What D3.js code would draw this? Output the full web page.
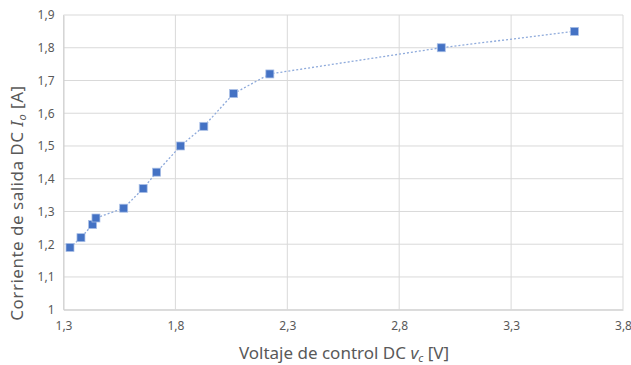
<!DOCTYPE html>
<html>
<head>
<meta charset="utf-8">
<script src="https://cdn.jsdelivr.net/npm/d3@7"></script>
<style>
  body { margin: 0; background: #fff; }
  text { font-family: 'Noto Sans', 'Liberation Sans', sans-serif; fill: #595959; }
</style>
</head>
<body>
<svg id="chart" width="631" height="365"></svg>
<script>
// Voltaje de control DC (V)
const vcValues = [1.329, 1.378, 1.43, 1.445, 1.569, 1.656, 1.716, 1.823, 1.927, 2.06, 2.222, 2.988, 3.583]
// Corriente de salida DC (A)
const ioValues = [1.19, 1.22, 1.26, 1.28, 1.31, 1.37, 1.42, 1.50, 1.56, 1.66, 1.72, 1.80, 1.85]
const xTicks = [1.3, 1.8, 2.3, 2.8, 3.3, 3.8]
const yTicks = [1, 1.1, 1.2, 1.3, 1.4, 1.5, 1.6, 1.7, 1.8, 1.9]

const data = vcValues.map((v, i) => ({ x: v, y: ioValues[i] }))

const margin = { left: 63.5, right: 8, top: 15, bottom: 55.3 }
const svg = d3.select('#chart')
const width = 631 - margin.left - margin.right
const height = 365 - margin.top - margin.bottom

const g = svg.append('g')
  .attr('transform', 'translate(' + margin.left + ',' + margin.top + ')')

const xScale = d3.scaleLinear().domain([1.3, 3.8]).range([0, width])
const yScale = d3.scaleLinear().domain([1, 1.9]).range([height, 0])

const fmt = d => d3.format('.1~f')(d).replace('.', ',')

// gridlines
g.append('g')
  .selectAll('line')
  .data(yTicks)
  .join('line')
  .attr('x1', 0).attr('x2', width)
  .attr('y1', d => yScale(d)).attr('y2', d => yScale(d))
  .attr('stroke', '#d9d9d9').attr('stroke-width', 1)

g.append('g')
  .selectAll('line')
  .data(xTicks)
  .join('line')
  .attr('x1', d => xScale(d)).attr('x2', d => xScale(d))
  .attr('y1', 0).attr('y2', height)
  .attr('stroke', '#d9d9d9').attr('stroke-width', 1)

// axes
const xAxis = g.append('g')
  .attr('transform', 'translate(0,' + height + ')')
  .call(d3.axisBottom(xScale).tickValues(xTicks).tickFormat(fmt).tickSize(0).tickPadding(12))
xAxis.select('.domain').attr('stroke', '#d0d0d0')
xAxis.selectAll('text').style('font-size', '12px').attr('fill', '#595959')

const yAxis = g.append('g')
  .call(d3.axisLeft(yScale).tickValues(yTicks).tickFormat(fmt).tickSize(0).tickPadding(9))
yAxis.select('.domain').attr('stroke', '#d0d0d0')
yAxis.selectAll('text').style('font-size', '12px').attr('fill', '#595959')

// line
const line = d3.line().x(d => xScale(d.x)).y(d => yScale(d.y))
g.append('path')
  .datum(data)
  .attr('d', line)
  .attr('fill', 'none')
  .attr('stroke', '#8eaadb')
  .attr('stroke-width', 1.3)
  .attr('stroke-dasharray', '2,2')

// markers
const size = 8
g.selectAll('.dot')
  .data(data)
  .join('rect')
  .attr('class', 'dot')
  .attr('x', d => xScale(d.x) - size / 2)
  .attr('y', d => yScale(d.y) - size / 2)
  .attr('width', size).attr('height', size)
  .attr('fill', '#4472c4')
  .attr('stroke', '#a9bfe6')
  .attr('stroke-width', 0.75)

// axis titles
const xt = svg.append('text')
  .attr('x', 344)
  .attr('y', 359)
  .attr('text-anchor', 'middle')
  .style('font-size', '17px')
xt.append('tspan').text('Voltaje de control DC ')
xt.append('tspan').text('v').style('font-style', 'italic')
xt.append('tspan').text('c').style('font-style', 'italic').style('font-size', '11px').attr('dy', 3)
xt.append('tspan').text(' [V]').attr('dy', -3)

const yt = svg.append('text')
  .attr('transform', 'translate(23,203) rotate(-90)')
  .attr('text-anchor', 'middle')
  .style('font-size', '17px')
  .style('letter-spacing', '0.5px')
yt.append('tspan').text('Corriente de salida DC ')
yt.append('tspan').text('I').style('font-style', 'italic')
yt.append('tspan').text('o').style('font-style', 'italic').style('font-size', '11px').attr('dy', 3)
yt.append('tspan').text(' [A]').attr('dy', -3)
</script>
</body>
</html>
